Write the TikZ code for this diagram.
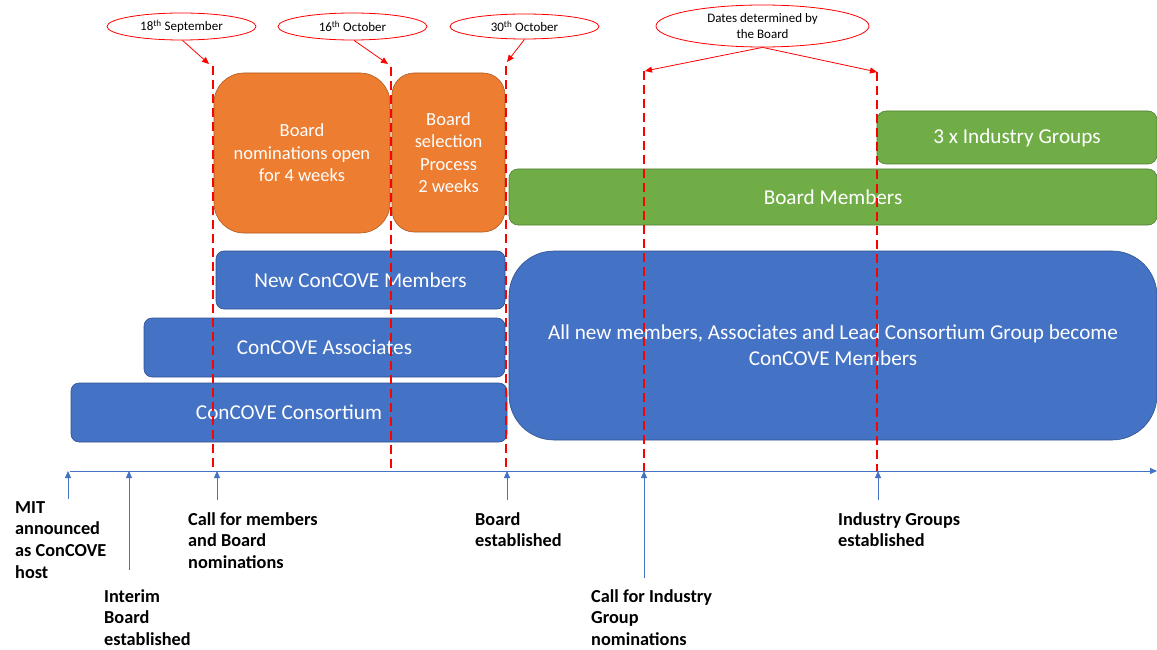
\documentclass[tikz,border=0pt]{standalone}
\usepackage{fontspec}
\setmainfont{Carlito}
\usetikzlibrary{arrows.meta,shapes.geometric}
\definecolor{cblue}{HTML}{4472C4}
\definecolor{cblueD}{HTML}{2F528F}
\definecolor{corange}{HTML}{ED7D31}
\definecolor{corangeD}{HTML}{AE5A21}
\definecolor{cgreen}{HTML}{70AD47}
\definecolor{cgreenD}{HTML}{507E32}
\definecolor{cred}{HTML}{FF0000}
\tikzset{
  boxbase/.style={rectangle, line width=0.6pt, text=white, align=center, inner sep=0pt},
  bluebox/.style={boxbase, fill=cblue, draw=cblueD, font=\fontsize{21.2}{25.8}\selectfont},
  orangebox/.style={boxbase, fill=corange, draw=corangeD, font=\fontsize{18.5}{22.5}\selectfont},
  greenbox/.style={boxbase, fill=cgreen, draw=cgreenD, font=\fontsize{21.2}{25.8}\selectfont},
  datebubble/.style={ellipse, draw=cred, fill=white, line width=0.8pt, inner sep=0pt, align=center, font=\fontsize{13}{16}\selectfont},
  redarrow/.style={draw=cred, line width=0.8pt, -{Triangle[length=7pt,width=6pt]}},
  reddash/.style={draw=cred, line width=1.6pt, dash pattern=on 9pt off 5pt},
  bluearrow/.style={draw=cblue, line width=0.8pt, -{Triangle[length=7pt,width=6pt]}},
  axisline/.style={draw=cblue, line width=0.9pt, -{Triangle[length=7pt,width=6pt]}},
  evlabel/.style={anchor=base west, align=left, inner sep=0pt, font=\bfseries\fontsize{18.3}{21.8}\selectfont}
}
\begin{document}
\begin{tikzpicture}[x=1pt,y=-1pt]
\useasboundingbox (0,0) rectangle (1157,650);

% boxes
\node[bluebox, minimum width=436pt, minimum height=59pt, rounded corners=8pt] (cons) at (289,412.5) {ConCOVE Consortium};
\node[bluebox, minimum width=361pt, minimum height=59pt, rounded corners=8pt] (assoc) at (324.5,347.5) {ConCOVE Associates};
\node[bluebox, minimum width=289pt, minimum height=58pt, rounded corners=8pt] (newm) at (360.5,280) {New ConCOVE Members};
\node[bluebox, minimum width=648pt, minimum height=189pt, rounded corners=45pt] (big) at (833,345.5) {All new members, Associates and Lead Consortium Group become\\ConCOVE Members};
\node[orangebox, minimum width=176pt, minimum height=160pt, rounded corners=30pt] (open) at (302,153) {Board\\nominations open\\for 4 weeks};
\node[orangebox, minimum width=113pt, minimum height=159pt, rounded corners=22pt] (sel) at (448.5,152.5) {Board\\selection\\Process\\2 weeks};
\node[greenbox, minimum width=648pt, minimum height=56pt, rounded corners=9pt] (bm) at (833,197) {Board Members};
\node[greenbox, minimum width=280pt, minimum height=53pt, rounded corners=9pt] (ind) at (1017,137.5) {3 x Industry Groups};

% axis
\coordinate (axL) at (70,471);
\coordinate (axR) at (1157,471);
\draw[axisline] (axL) -- (axR);

% dashed date lines
\coordinate (d1t) at (213,66);  \coordinate (d1b) at (213,471);
\coordinate (d2t) at (391,67);  \coordinate (d2b) at (391,471);
\coordinate (d3t) at (506,66);  \coordinate (d3b) at (506,471);
\coordinate (d4t) at (644,71);  \coordinate (d4b) at (644,471);
\coordinate (d5t) at (877,72);  \coordinate (d5b) at (877,471);
\draw[reddash] (d1t) -- (d1b);
\draw[reddash] (d2t) -- (d2b);
\draw[reddash] (d3t) -- (d3b);
\draw[reddash] (d4t) -- (d4b);
\draw[reddash] (d5t) -- (d5b);

% date bubbles
\node[datebubble, minimum width=149pt, minimum height=27pt] (e18) at (181.5,26.5) {18\textsuperscript{th} September};
\node[datebubble, minimum width=149pt, minimum height=27pt] (e16) at (352.5,26.5) {16\textsuperscript{th} October};
\node[datebubble, minimum width=149pt, minimum height=25pt] (e30) at (524.5,26.5) {30\textsuperscript{th} October};
\node[datebubble, minimum width=213pt, minimum height=42pt] (edb) at (762.5,26) {Dates determined by\\the Board};

\coordinate (t18) at (209,64);
\coordinate (t16) at (388,64);
\coordinate (t30) at (507,62);
\coordinate (t4) at (645,71);
\coordinate (t5) at (877,72);
\draw[redarrow] ([xshift=1pt]e18.south) -- (t18);
\draw[redarrow] ([xshift=1.5pt]e16.south) -- (t16);
\draw[redarrow] (e30.south) -- (t30);
\draw[redarrow] (edb.south) -- (t4);
\draw[redarrow] (edb.south) -- (t5);

% event labels (base anchor = baseline of last line)
\node[evlabel] (lmit) at (15,578.4) {MIT\\announced\\as ConCOVE\\host};
\node[evlabel] (lint) at (104,645.6) {Interim\\Board\\established};
\node[evlabel] (lcall) at (188,568.6) {Call for members\\and Board\\nominations};
\node[evlabel] (lboard) at (475,546.8) {Board\\established};
\node[evlabel] (lcig) at (591,645.6) {Call for Industry\\Group\\nominations};
\node[evlabel] (lig) at (838,546.8) {Industry Groups\\established};

% blue arrows to axis
\coordinate (a1s) at (68,499);  \coordinate (a1e) at (68,471);
\coordinate (a2s) at (129,570); \coordinate (a2e) at (129,471);
\coordinate (a3s) at (217,500); \coordinate (a3e) at (217,471);
\coordinate (a4s) at (507,500); \coordinate (a4e) at (507,471);
\coordinate (a5s) at (644,578); \coordinate (a5e) at (644,471);
\coordinate (a6s) at (878,500); \coordinate (a6e) at (878,471);
\draw[bluearrow] (a1s) -- (a1e);
\draw[bluearrow] (a2s) -- (a2e);
\draw[bluearrow] (a3s) -- (a3e);
\draw[bluearrow] (a4s) -- (a4e);
\draw[bluearrow] (a5s) -- (a5e);
\draw[bluearrow] (a6s) -- (a6e);
\end{tikzpicture}
\end{document}
